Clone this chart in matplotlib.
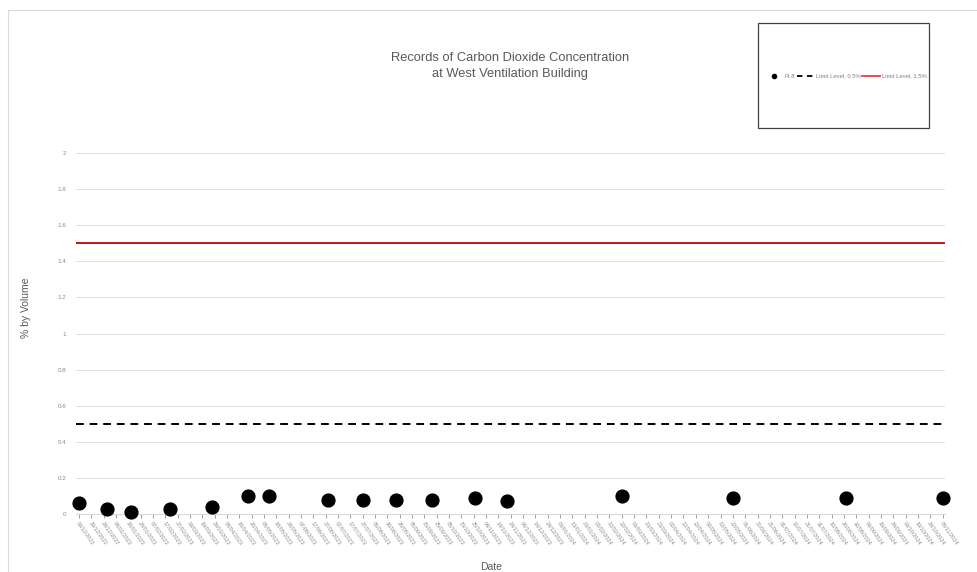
import matplotlib
matplotlib.use("Agg")
import matplotlib.pyplot as plt
import matplotlib.dates as mdates
from matplotlib.lines import Line2D
from matplotlib.patches import Rectangle
import pandas as pd

# -----------------------------
# DATA
# -----------------------------
dates = ["2022-12-09", "2023-01-01", "2023-01-20", "2023-02-21", "2023-03-27",
         "2023-04-25", "2023-05-12", "2023-06-29", "2023-07-27", "2023-08-23",
         "2023-09-21", "2023-10-26", "2023-11-21", "2024-02-22", "2024-05-22",
         "2024-08-22", "2024-11-08"]
pt8 = [0.06, 0.03, 0.01, 0.03, 0.04,
       0.10, 0.10, 0.08, 0.08, 0.08,
       0.08, 0.09, 0.07, 0.10, 0.09,
       0.09, 0.09]
limit_low = 0.5
limit_high = 1.5
axis_start = "2022-12-09"
axis_end = "2024-11-08"

dates = pd.to_datetime(dates)
tick_dates = pd.date_range(axis_start, axis_end, freq="10D")

plt.rcParams["font.family"] = ["Liberation Sans", "DejaVu Sans"]

# -----------------------------
# FIGURE
# -----------------------------
fig = plt.figure(figsize=(9.77, 5.72), dpi=100)
ax = fig.add_axes([76 / 977, 1 - 514 / 572, 869 / 977, 361 / 572])

x0 = pd.Timestamp(axis_start) - pd.Timedelta(days=2.5)
x1 = pd.Timestamp(axis_end) + pd.Timedelta(days=2)

ax.plot([x0, x1], [limit_low, limit_low], color="black", lw=1.4,
        dashes=(4, 3), zorder=2)
ax.plot([x0, x1], [limit_high, limit_high], color="#c00000", lw=1.3, zorder=2)
ax.scatter(dates, pt8, s=85, color="black", zorder=3, clip_on=False)

ax.set_xlim(x0, x1)
ax.set_ylim(0, 2)
ax.set_yticks([i * 0.2 for i in range(11)])
ax.set_yticklabels(["0", "0.2", "0.4", "0.6", "0.8", "1", "1.2", "1.4", "1.6", "1.8", "2"])
ax.yaxis.grid(True, color="#e0e0e0", lw=0.7)
ax.set_axisbelow(True)

ax.set_xticks(tick_dates)
ax.xaxis.set_major_formatter(mdates.DateFormatter("%d/%m/%Y"))
for lab in ax.get_xticklabels():
    lab.set_rotation(-55)
    lab.set_ha("left")
    lab.set_va("top")
    lab.set_rotation_mode("anchor")
ax.tick_params(axis="x", labelsize=4, colors="#8c8c8c", length=3, width=0.6,
               direction="out", pad=2)
ax.tick_params(axis="y", labelsize=4.5, colors="#8c8c8c", length=0, pad=7)

for s in ["top", "right", "left"]:
    ax.spines[s].set_visible(False)
ax.spines["bottom"].set_color("#d9d9d9")
ax.spines["bottom"].set_linewidth(0.8)

ax.set_ylabel("% by Volume", fontsize=7.5, color="#595959")
ax.yaxis.set_label_coords((31 - 76) / 869, (514 - 308) / 361)
ax.set_xlabel("Date", fontsize=7.5, color="#595959")
ax.xaxis.set_label_coords((491 - 76) / 869, -(562 - 514) / 361)

fig.text(510 / 977, 1 - 66 / 572,
         "Records of Carbon Dioxide Concentration\nat West Ventilation Building",
         ha="center", va="center", fontsize=9.3, color="#595959", linespacing=1.45)

# -----------------------------
# LEGEND (boxed)
# -----------------------------
fig.patches.append(Rectangle((758 / 977, 1 - 128 / 572), 171 / 977, 105 / 572,
                             transform=fig.transFigure, fill=False,
                             edgecolor="#404040", lw=0.9))
handles = [
    Line2D([], [], ls="none", marker="o", color="black", markersize=3),
    Line2D([], [], color="black", lw=1.3, dashes=(3, 2.5)),
    Line2D([], [], color="#e04040", lw=1.3),
]
fig.legend(handles, ["Pt.8", "Limit Level, 0.5%", "Limit Level, 1.5%"],
           loc="center", bbox_to_anchor=(846 / 977, 1 - 76 / 572), ncol=3,
           fontsize=4.2, frameon=False, handlelength=3.0, handletextpad=0.4,
           columnspacing=0.2, labelcolor="#7f7f7f")

# chart border
fig.patches.append(Rectangle((8 / 977, -0.05), 1.2, 1 - 10 / 572 + 0.05,
                             transform=fig.transFigure, fill=False,
                             edgecolor="#d9d9d9", lw=0.8))

fig.savefig("out.png", dpi=100)
